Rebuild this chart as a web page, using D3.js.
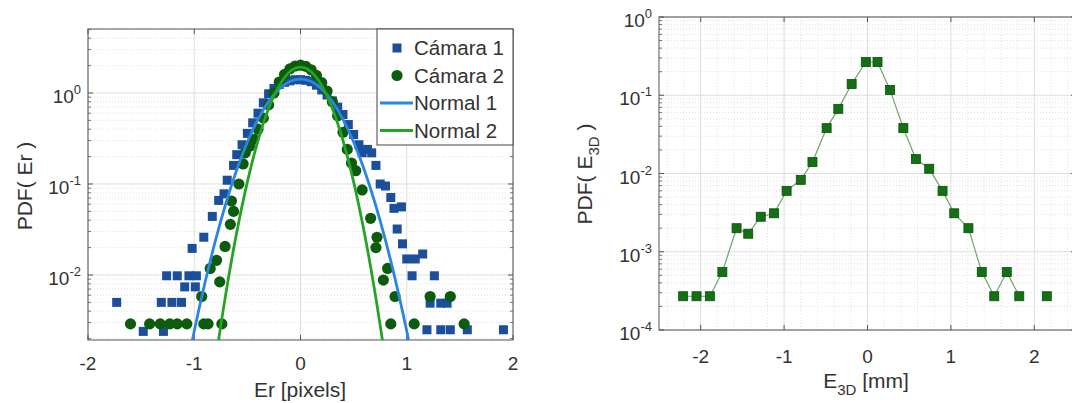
<!DOCTYPE html>
<html>
<head>
<meta charset="utf-8">
<script src="https://cdn.jsdelivr.net/npm/d3@7"></script>
<style>
body { margin: 0; background: #fff; }
text { font-family: "Liberation Sans", Arial, sans-serif; fill: #333; }
</style>
</head>
<body>
<div id="plot"></div>
<script>
// left panel: Cámara 1 (squares)
let cam1X = [-1.73, -1.48, -1.29, -1.31, -1.21, -1.12, -1.26, -1.16, -1.05, -0.98, -1.09, -0.99, -1.02, -0.91, -0.83, -0.77, -0.72, -0.69, -0.63, -0.60,
  -0.55, -0.50, -0.45, -0.40, -0.35, -0.30, -0.25, -0.20, -0.15, -0.10, -0.05, 0, 0.05, 0.10, 0.15, 0.20, 0.25, 0.30, 0.35, 0.40, 0.45, 0.50, 0.55,
  0.58, 0.63, 0.67, 0.71, 0.75, 0.80, 0.85, 0.88, 0.95, 0.91, 0.96, 1.00, 1.08, 1.15, 1.05, 1.26, 1.22, 1.32, 1.38, 1.19, 1.32, 1.41, 1.57, 1.91]
let cam1Y = [0.005, 0.0024, 0.0024, 0.005, 0.005, 0.005, 0.0098, 0.0098, 0.0098, 0.0098, 0.0074, 0.0074, 0.0196, 0.026, 0.044, 0.066, 0.078, 0.11, 0.16, 0.21,
  0.27, 0.36, 0.47, 0.60, 0.78, 0.98, 1.12, 1.24, 1.31, 1.36, 1.40, 1.40, 1.38, 1.33, 1.22, 1.08, 0.95, 0.82, 0.70, 0.58, 0.45, 0.35, 0.27,
  0.22, 0.24, 0.22, 0.16, 0.10, 0.095, 0.071, 0.054, 0.056, 0.032, 0.022, 0.015, 0.015, 0.017, 0.0098, 0.0098, 0.0049, 0.0049, 0.0049, 0.0025, 0.0025, 0.0025, 0.0025, 0.0025]

// Cámara 2 (circles)
let cam2X = [-1.60, -1.42, -1.32, -1.23, -1.16, -1.07, -0.91, -0.87, -0.74,
  -0.93, -0.76, -0.85, -0.79, -0.71, -0.66, -0.63, -0.65, -0.58, -0.54, -0.52,
  -0.48, -0.44, -0.40, -0.35, -0.30, -0.25, -0.20, -0.15, -0.10, -0.05, 0, 0.05, 0.10, 0.15, 0.20, 0.25, 0.30, 0.35, 0.40, 0.44, 0.48,
  0.52, 0.58, 0.66, 0.72, 0.71, 0.82, 0.78, 0.89, 0.85, 1.07, 1.22, 1.41, 1.54]
let cam2Y = [0.0029, 0.0029, 0.0029, 0.0029, 0.0029, 0.0029, 0.0029, 0.0029, 0.0029,
  0.0058, 0.0084, 0.0118, 0.0145, 0.0206, 0.036, 0.05, 0.065, 0.10, 0.166, 0.22,
  0.26, 0.31, 0.40, 0.53, 0.74, 1.0, 1.32, 1.6, 1.84, 1.98, 2.02, 1.96, 1.80, 1.56, 1.30, 1.05, 0.80, 0.56, 0.37, 0.24, 0.17,
  0.14, 0.086, 0.042, 0.026, 0.020, 0.0118, 0.0088, 0.0058, 0.0029, 0.0029, 0.0058, 0.0058, 0.0029]

// fitted normal curves
let norm1X = [-1.1, -1.0, -0.9, -0.8, -0.7, -0.6, -0.5, -0.4, -0.3, -0.2, -0.1, 0, 0.1, 0.2, 0.3, 0.4, 0.5, 0.6, 0.7, 0.8, 0.9, 1.0, 1.1]
let norm1Y = [0.000634, 0.00242, 0.00813, 0.0240, 0.0626, 0.1434, 0.289, 0.514, 0.803, 1.104, 1.337, 1.425, 1.337, 1.104, 0.803, 0.514, 0.289, 0.1434, 0.0626, 0.0240, 0.00813, 0.00242, 0.000634]
let norm2X = [-0.8, -0.7, -0.6, -0.5, -0.4, -0.3, -0.2, -0.1, 0, 0.1, 0.2, 0.3, 0.4, 0.5, 0.6, 0.7, 0.8]
let norm2Y = [0.00115, 0.00652, 0.0295, 0.1056, 0.300, 0.675, 1.206, 1.71, 1.92, 1.71, 1.206, 0.675, 0.300, 0.1056, 0.0295, 0.00652, 0.00115]

// right panel: E3D
let e3dX = [-2.21, -2.05, -1.89, -1.74, -1.57, -1.43, -1.28, -1.12, -0.97, -0.80, -0.66, -0.49, -0.35, -0.19, -0.02, 0.12, 0.27, 0.43, 0.58, 0.74, 0.90, 1.04, 1.21, 1.37, 1.52, 1.67, 1.82, 1.98, 2.15]
let e3dY = [0.00027, 0.00027, 0.00027, 0.00055, 0.002, 0.0017, 0.0028, 0.0031, 0.006, 0.0083, 0.014, 0.038, 0.067, 0.139, 0.266, 0.266, 0.117, 0.038, 0.0153, 0.0115, 0.006, 0.0031, 0.002, 0.00055, 0.00027, 0.00055, 0.00027, 0, 0.00027]

let xTicks = [-2, -1, 0, 1, 2]
let leftYTicks = [0.01, 0.1, 1]
let rightYTicks = [0.0001, 0.001, 0.01, 0.1, 1]
let legendNames = ['Cámara 1', 'Cámara 2', 'Normal 1', 'Normal 2']

let c1 = '#1b4e9b', c2 = '#0d5c0d', n1 = '#2a86e0', n2 = '#25a325'

let svg = d3.select('#plot').append('svg')
  .attr('width', 1072)
  .attr('height', 403)

function frame(box, x, y, xt, yt, opts) {
  let g = svg.append('g')
  let minorY = y.ticks().filter(t => yt.indexOf(t) < 0)

  g.append('rect')
    .attr('x', box.x0).attr('y', box.y0)
    .attr('width', box.x1 - box.x0).attr('height', box.y1 - box.y0)
    .attr('fill', '#fff')

  if (opts.minorX) {
    g.selectAll('.mx').data(opts.minorX).enter().append('line')
      .attr('x1', d => x(d)).attr('x2', d => x(d))
      .attr('y1', box.y0).attr('y2', box.y1)
      .attr('stroke', '#e4e4e4').attr('stroke-dasharray', '1,2')
  }
  g.selectAll('.my').data(minorY).enter().append('line')
    .attr('x1', box.x0).attr('x2', box.x1)
    .attr('y1', d => y(d)).attr('y2', d => y(d))
    .attr('stroke', '#e0e0e0').attr('stroke-dasharray', '1,2')
  g.selectAll('.gx').data(xt).enter().append('line')
    .attr('x1', d => x(d)).attr('x2', d => x(d))
    .attr('y1', box.y0).attr('y2', box.y1)
    .attr('stroke', '#dedede')
  g.selectAll('.gy').data(yt).enter().append('line')
    .attr('x1', box.x0).attr('x2', box.x1)
    .attr('y1', d => y(d)).attr('y2', d => y(d))
    .attr('stroke', '#dedede')

  // inward ticks on all sides
  xt.forEach(t => {
    g.append('line').attr('x1', x(t)).attr('x2', x(t)).attr('y1', box.y1).attr('y2', box.y1 - 5).attr('stroke', '#555')
    g.append('line').attr('x1', x(t)).attr('x2', x(t)).attr('y1', box.y0).attr('y2', box.y0 + 5).attr('stroke', '#555')
  })
  yt.forEach(t => {
    g.append('line').attr('x1', box.x0).attr('x2', box.x0 + 5).attr('y1', y(t)).attr('y2', y(t)).attr('stroke', '#555')
    g.append('line').attr('x1', box.x1).attr('x2', box.x1 - 5).attr('y1', y(t)).attr('y2', y(t)).attr('stroke', '#555')
  })
  minorY.forEach(t => {
    g.append('line').attr('x1', box.x0).attr('x2', box.x0 + 3).attr('y1', y(t)).attr('y2', y(t)).attr('stroke', '#777')
    g.append('line').attr('x1', box.x1).attr('x2', box.x1 - 3).attr('y1', y(t)).attr('y2', y(t)).attr('stroke', '#777')
  })

  g.append('rect')
    .attr('x', box.x0).attr('y', box.y0)
    .attr('width', box.x1 - box.x0).attr('height', box.y1 - box.y0)
    .attr('fill', 'none').attr('stroke', '#555')

  g.selectAll('.xl').data(xt).enter().append('text')
    .attr('x', d => x(d)).attr('y', box.y1 + opts.xOff)
    .attr('text-anchor', 'middle')
    .style('font-size', '19px')
    .text(d => d)

  yt.forEach(t => {
    let tx = g.append('text')
      .attr('x', box.x0 - 7).attr('y', y(t) + 10)
      .attr('text-anchor', 'end')
      .style('font-size', '19px')
    tx.append('tspan').text('10')
    tx.append('tspan').attr('dy', -9).style('font-size', '13px').text(Math.round(Math.log10(t)))
  })

  svg.append('clipPath').attr('id', opts.id)
    .append('rect')
    .attr('x', box.x0).attr('y', box.y0)
    .attr('width', box.x1 - box.x0).attr('height', box.y1 - box.y0)
}

// ---- left panel
let L = {x0: 88, x1: 513, y0: 29, y1: 340}
let xL = d3.scaleLinear().domain([-2, 2]).range([L.x0, L.x1])
let yL = d3.scaleLog().domain([0.00193, 5.05]).range([L.y1, L.y0])

frame(L, xL, yL, xTicks, leftYTicks, {xOff: 30, id: 'clipL'})

let cam1 = cam1X.map((d, i) => ({x: d, y: cam1Y[i]}))
let cam2 = cam2X.map((d, i) => ({x: d, y: cam2Y[i]}))
let norm1 = norm1X.map((d, i) => ({x: d, y: norm1Y[i]}))
let norm2 = norm2X.map((d, i) => ({x: d, y: norm2Y[i]}))

svg.append('g').selectAll('rect').data(cam1).enter().append('rect')
  .attr('x', d => xL(d.x) - 4.5).attr('y', d => yL(d.y) - 4.5)
  .attr('width', 9).attr('height', 9)
  .attr('fill', c1)

svg.append('g').selectAll('circle').data(cam2).enter().append('circle')
  .attr('cx', d => xL(d.x)).attr('cy', d => yL(d.y))
  .attr('r', 5.6)
  .attr('fill', c2)

let lineL = d3.line().x(d => xL(d.x)).y(d => yL(d.y)).curve(d3.curveMonotoneX)

svg.append('path').datum(norm1)
  .attr('d', lineL)
  .attr('clip-path', 'url(#clipL)')
  .attr('fill', 'none').attr('stroke', n1).attr('stroke-width', 2.8)

svg.append('path').datum(norm2)
  .attr('d', lineL)
  .attr('clip-path', 'url(#clipL)')
  .attr('fill', 'none').attr('stroke', n2).attr('stroke-width', 2.8)

// legend
let leg = svg.append('g')
leg.append('rect')
  .attr('x', 377).attr('y', 29).attr('width', 136).attr('height', 116)
  .attr('fill', '#fff').attr('stroke', '#444')

legendNames.forEach((name, i) => {
  let cy = 48 + i * 27.5
  if (i == 0) {
    leg.append('rect').attr('x', 392.5).attr('y', cy - 4.5).attr('width', 9).attr('height', 9).attr('fill', c1)
  } else if (i == 1) {
    leg.append('circle').attr('cx', 397).attr('cy', cy).attr('r', 5.6).attr('fill', c2)
  } else {
    leg.append('line').attr('x1', 380).attr('x2', 413).attr('y1', cy).attr('y2', cy)
      .attr('stroke', i == 2 ? n1 : n2).attr('stroke-width', 2.8)
  }
  leg.append('text')
    .attr('x', 414).attr('y', cy + 7)
    .style('font-size', '20.5px')
    .text(name)
})

svg.append('text')
  .attr('x', 300).attr('y', 397)
  .attr('text-anchor', 'middle')
  .style('font-size', '21px')
  .text('Er [pixels]')

svg.append('text')
  .attr('transform', 'translate(32, 186) rotate(-90)')
  .attr('text-anchor', 'middle')
  .style('font-size', '21px')
  .text('PDF( Er )')

// ---- right panel
let R = {x0: 659, x1: 1076, y0: 17, y1: 330}
let xR = d3.scaleLinear().domain([-2.5, 2.5]).range([R.x0, R.x1])
let yR = d3.scaleLog().domain([0.0001, 1]).range([R.y1, R.y0])

frame(R, xR, yR, xTicks, rightYTicks, {xOff: 33, id: 'clipR', minorX: d3.range(-24, 25, 2).filter(d => d % 10 != 0).map(d => d / 10)})

let e3d = e3dX.map((d, i) => ({x: d, y: e3dY[i]}))

svg.append('path').datum(e3d)
  .attr('d', d3.line().defined(d => d.y > 0).x(d => xR(d.x)).y(d => yR(d.y)))
  .attr('fill', 'none').attr('stroke', '#6fa36f').attr('stroke-width', 1.2)

svg.append('g').selectAll('rect').data(e3d.filter(d => d.y > 0)).enter().append('rect')
  .attr('x', d => xR(d.x) - 4.5).attr('y', d => yR(d.y) - 4.5)
  .attr('width', 9).attr('height', 9)
  .attr('fill', '#137013').attr('stroke', '#0b4e0b').attr('stroke-width', 0.8)

let xlab = svg.append('text')
  .attr('x', 866).attr('y', 388)
  .attr('text-anchor', 'middle')
  .style('font-size', '21px')
xlab.append('tspan').text('E')
xlab.append('tspan').attr('dy', 7).style('font-size', '15px').text('3D')
xlab.append('tspan').attr('dy', -7).text(' [mm]')

let ylab = svg.append('text')
  .attr('transform', 'translate(592, 174) rotate(-90)')
  .attr('text-anchor', 'middle')
  .style('font-size', '21px')
ylab.append('tspan').text('PDF( E')
ylab.append('tspan').attr('dy', 7).style('font-size', '15px').text('3D')
ylab.append('tspan').attr('dy', -7).text(' )')
</script>
</body>
</html>
